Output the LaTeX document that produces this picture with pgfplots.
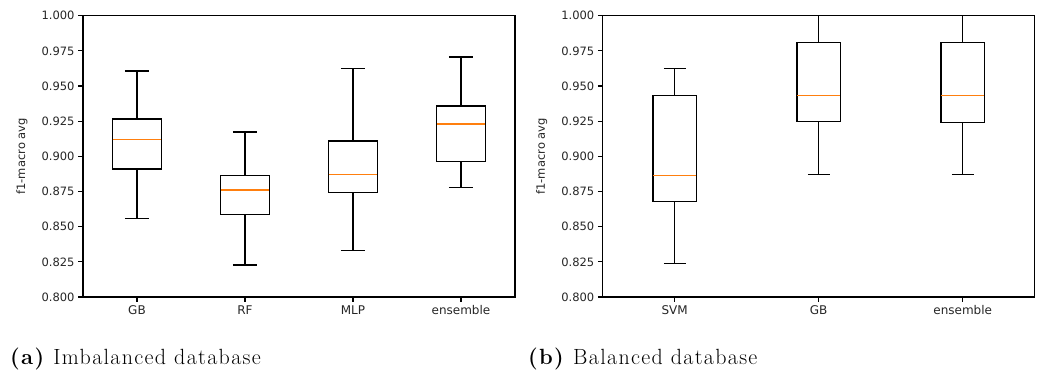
\documentclass[border=0pt]{standalone}
\usepackage{fontspec}
\usepackage{pgfplots}
\pgfplotsset{compat=1.18}
\usepgfplotslibrary{statistics}
\newfontfamily\chartfont{DejaVu Sans}
\newfontfamily\capfont[LetterSpace=6]{Latin Modern Roman}
\definecolor{mplorange}{HTML}{FF7F0E}
\definecolor{mpltext}{HTML}{262626}
\pgfplotsset{
  mybox/.style={
    scale only axis, width=432pt, height=281.3pt,
    ymin=0.8, ymax=1.0,
    ytick={0.8,0.825,...,1.0001},
    yticklabel style={/pgf/number format/.cd, fixed, fixed zerofill, precision=3, assume math mode=true},
    tick label style={font=\chartfont\fontsize{11.5}{13}\selectfont, text=mpltext},
    xticklabel style={font=\chartfont\fontsize{12}{13}\selectfont},
    label style={font=\chartfont\fontsize{11.5}{13}\selectfont, text=mpltext},
    ylabel={f1-macro avg},
    ylabel style={at={(axis description cs:0,0.5)}, anchor=south, yshift=52pt, xshift=0pt},
    xtick pos=bottom, ytick pos=left,
    tick align=outside, major tick length=4.9pt,
    every tick/.style={black, line width=1.1pt},
    axis line style={black, line width=1.1pt},
    boxplot/draw direction=y,
    boxplot/every median/.style={draw=mplorange, line width=1.4pt},
    boxplot/every box/.style={draw=black, line width=1.4pt},
    boxplot/every whisker/.style={draw=black, line width=1.4pt},
    clip=false,
  }
}
\begin{document}
\begin{tikzpicture}[x=1pt,y=1pt]
\path (0,0) rectangle (1040,374);
\begin{axis}[mybox, at={(83pt,77pt)}, anchor=south west,
  xmin=0.5, xmax=4.5, xtick={1,2,3,4}, xticklabels={GB,RF,MLP,ensemble}]
\addplot[boxplot prepared={lower whisker=0.8559, lower quartile=0.8909, median=0.9120, upper quartile=0.9266, upper whisker=0.9607, draw position=1, box extend=0.45, whisker extend=0.225}, draw=black, line width=1.4pt] coordinates {};
\addplot[boxplot prepared={lower whisker=0.8227, lower quartile=0.8587, median=0.8762, upper quartile=0.8864, upper whisker=0.9174, draw position=2, box extend=0.45, whisker extend=0.225}, draw=black, line width=1.4pt] coordinates {};
\addplot[boxplot prepared={lower whisker=0.8329, lower quartile=0.8743, median=0.8873, upper quartile=0.9110, upper whisker=0.9624, draw position=3, box extend=0.45, whisker extend=0.225}, draw=black, line width=1.4pt] coordinates {};
\addplot[boxplot prepared={lower whisker=0.8779, lower quartile=0.8963, median=0.9231, upper quartile=0.9359, upper whisker=0.9707, draw position=4, box extend=0.45, whisker extend=0.225}, draw=black, line width=1.4pt] coordinates {};
\end{axis}
\begin{axis}[mybox, at={(602.7pt,77pt)}, anchor=south west,
  xmin=0.5, xmax=3.5, xtick={1,2,3}, xticklabels={SVM,GB,ensemble}]
\addplot[boxplot prepared={lower whisker=0.8239, lower quartile=0.8679, median=0.8864, upper quartile=0.9432, upper whisker=0.9624, draw position=1, box extend=0.3, whisker extend=0.15}, draw=black, line width=1.4pt] coordinates {};
\addplot[boxplot prepared={lower whisker=0.8873, lower quartile=0.9247, median=0.9432, upper quartile=0.9808, upper whisker=1.0, draw position=2, box extend=0.3, whisker extend=0.15}, draw=black, line width=1.4pt] coordinates {};
\addplot[boxplot prepared={lower whisker=0.8873, lower quartile=0.9240, median=0.9432, upper quartile=0.9808, upper whisker=1.0, draw position=3, box extend=0.3, whisker extend=0.15}, draw=black, line width=1.4pt] coordinates {};
\end{axis}
\node[anchor=base west, inner sep=0pt, font=\capfont\fontsize{22}{26}\selectfont] at (10,9) {\textbf{(a)} Imbalanced database};
\node[anchor=base west, inner sep=0pt, font=\capfont\fontsize{22}{26}\selectfont] at (528,9) {\textbf{(b)} Balanced database};
\end{tikzpicture}
\end{document}
